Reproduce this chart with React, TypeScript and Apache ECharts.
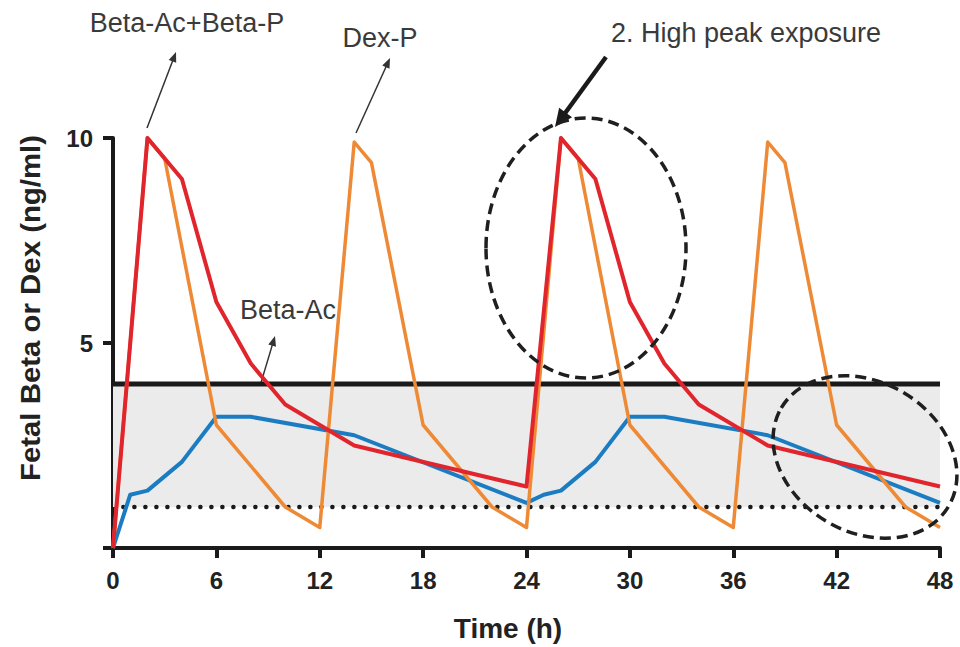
import React, { useEffect, useRef } from "react";
import * as echarts from "echarts";

const xTicks = [0, 6, 12, 18, 24, 30, 36, 42, 48];
const yTicks = [0, 5, 10];

const betaTotalTimes = [0, 2, 4, 6, 8, 10, 14, 24, 26, 28, 30, 32, 34, 38, 48];
const betaTotalValues = [0, 10, 9, 6, 4.5, 3.5, 2.5, 1.5, 10, 9, 6, 4.5, 3.5, 2.5, 1.5];

const dexTimes = [0, 2, 3, 6, 10, 12, 14, 15, 18, 22, 24, 26, 27, 30, 34, 36, 38, 39, 42, 46, 48];
const dexValues = [0, 10, 9.5, 3, 1, 0.5, 9.9, 9.4, 3, 1, 0.5, 10, 9.5, 3, 1, 0.5, 9.9, 9.4, 3, 1, 0.5];

const betaAcTimes = [0, 1, 2, 4, 6, 8, 14, 24, 25, 26, 28, 30, 32, 38, 48];
const betaAcValues = [0, 1.3, 1.4, 2.1, 3.2, 3.2, 2.75, 1.1, 1.3, 1.4, 2.1, 3.2, 3.2, 2.75, 1.1];

const upperLimit = 4;
const lowerLimit = 1;

const annotationTexts = ["Beta-Ac+Beta-P", "Dex-P", "Beta-Ac", "2. High peak exposure"];

const FONT = '"Liberation Sans", Arial, Helvetica, sans-serif';

function pairs(t: number[], v: number[]) {
  return t.map((x, i) => [x, v[i]]);
}

function arrow(x1: number, y1: number, x2: number, y2: number, w: number, headLen: number, headW: number, color: string) {
  const dx = x2 - x1;
  const dy = y2 - y1;
  const len = Math.sqrt(dx * dx + dy * dy);
  const ux = dx / len;
  const uy = dy / len;
  const bx = x2 - ux * headLen;
  const by = y2 - uy * headLen;
  const px = -uy;
  const py = ux;
  return [
    {
      type: "line",
      shape: { x1, y1, x2: bx + ux * 1, y2: by + uy * 1 },
      style: { stroke: color, lineWidth: w },
      silent: true,
    },
    {
      type: "polygon",
      shape: {
        points: [
          [x2, y2],
          [bx + px * headW, by + py * headW],
          [bx - px * headW, by - py * headW],
        ],
      },
      style: { fill: color },
      silent: true,
    },
  ];
}

export default function App() {
  const ref = useRef<HTMLDivElement>(null);
  useEffect(() => {
    if (!ref.current) return;
    const chart = echarts.init(ref.current, null, { renderer: "svg" });
    const textColor = "#3a3a3a";
    const annoStyle = (text: string, x: number, y: number) => ({
      type: "text",
      x,
      y,
      silent: true,
      style: {
        text,
        fill: textColor,
        font: `normal 27px ${FONT}`,
        align: "center",
        verticalAlign: "middle",
      },
    });
    const option: any = {
      animation: false,
      grid: { left: 113, right: 20, top: 138, bottom: 99, containLabel: false },
      xAxis: {
        type: "value",
        min: 0,
        max: 48,
        interval: 6,
        axisLine: { show: true, lineStyle: { color: "#1a1a1a", width: 4 } },
        axisTick: { show: true, length: 10, lineStyle: { color: "#1a1a1a", width: 4 } },
        splitLine: { show: false },
        axisLabel: {
          margin: 20,
          fontSize: 24,
          fontWeight: "bold",
          fontFamily: FONT,
          color: "#222",
          formatter: (v: number) => (xTicks.includes(v) ? String(v) : ""),
        },
      },
      yAxis: {
        type: "value",
        min: 0,
        max: 10,
        interval: 5,
        axisLine: { show: true, lineStyle: { color: "#1a1a1a", width: 4 } },
        axisTick: { show: true, length: 10, lineStyle: { color: "#1a1a1a", width: 4 } },
        splitLine: { show: false },
        axisLabel: {
          margin: 20,
          fontSize: 24,
          fontWeight: "bold",
          fontFamily: FONT,
          color: "#222",
          formatter: (v: number) => (v === 0 ? "" : yTicks.includes(v) ? String(v) : ""),
        },
      },
      series: [
        {
          name: "band",
          type: "line",
          silent: true,
          symbol: "none",
          data: [
            [0, lowerLimit],
            [48, lowerLimit],
          ],
          lineStyle: { width: 0, opacity: 0 },
          markArea: {
            silent: true,
            itemStyle: { color: "#ebebeb", opacity: 1 },
            data: [[{ yAxis: lowerLimit }, { yAxis: upperLimit }]],
          },
          z: 1,
        },
        {
          name: "upper",
          type: "line",
          silent: true,
          symbol: "none",
          data: [
            [0, upperLimit],
            [48, upperLimit],
          ],
          lineStyle: { color: "#1a1a1a", width: 5 },
          z: 2,
        },
        {
          name: "lower",
          type: "line",
          silent: true,
          symbol: "none",
          data: [
            [0.6, lowerLimit],
            [48, lowerLimit],
          ],
          lineStyle: { color: "#1a1a1a", width: 4.5, type: [0.1, 10.9], cap: "round" },
          z: 2,
        },
        {
          name: "Beta-Ac",
          type: "line",
          symbol: "none",
          data: pairs(betaAcTimes, betaAcValues),
          lineStyle: { color: "#1c7cc2", width: 4, join: "round" },
          z: 3,
        },
        {
          name: "Dex-P",
          type: "line",
          symbol: "none",
          data: pairs(dexTimes, dexValues),
          lineStyle: { color: "#ee8a35", width: 3.5, join: "round" },
          z: 4,
        },
        {
          name: "Beta-Ac+Beta-P",
          type: "line",
          symbol: "none",
          data: pairs(betaTotalTimes, betaTotalValues),
          lineStyle: { color: "#e1252d", width: 4, join: "round" },
          z: 5,
        },
      ],
      graphic: [
        {
          type: "text",
          x: 30,
          y: 308,
          rotation: Math.PI / 2,
          scaleX: 1.05,
          silent: true,
          style: {
            text: "Fetal Beta or Dex (ng/ml)",
            fill: "#222",
            font: `bold 28px ${FONT}`,
            align: "center",
            verticalAlign: "middle",
          },
        },
        {
          type: "text",
          x: 508,
          y: 628,
          silent: true,
          style: {
            text: "Time (h)",
            fill: "#222",
            font: `bold 28px ${FONT}`,
            align: "center",
            verticalAlign: "middle",
          },
        },
        annoStyle(annotationTexts[0], 187, 23),
        annoStyle(annotationTexts[1], 380, 38),
        annoStyle(annotationTexts[2], 288, 310),
        annoStyle(annotationTexts[3], 746, 33),
        ...arrow(147, 128, 176, 52, 1.5, 10, 4, "#333"),
        ...arrow(356, 133, 390, 58, 1.5, 10, 4, "#333"),
        ...arrow(254, 406, 275, 336, 1.5, 10, 4, "#333"),
        ...arrow(606, 57, 555, 127, 4.5, 18, 8, "#1a1a1a"),
        {
          type: "ellipse",
          x: 586,
          y: 248,
          shape: { cx: 0, cy: 0, rx: 100, ry: 130 },
          style: { fill: "none", stroke: "#1f1f1f", lineWidth: 3.5, lineDash: [11, 6] },
          silent: true,
          z: 10,
        },
        {
          type: "ellipse",
          x: 865,
          y: 457,
          rotation: -0.53,
          shape: { cx: 0, cy: 0, rx: 97, ry: 75 },
          style: { fill: "none", stroke: "#1f1f1f", lineWidth: 3.5, lineDash: [11, 6] },
          silent: true,
          z: 10,
        },
      ],
    };
    chart.setOption(option);
    return () => chart.dispose();
  }, []);
  return (
    <div
      ref={ref}
      style={{ position: "fixed", left: 0, top: 0, width: 960, height: 647, background: "#fff" }}
    />
  );
}
